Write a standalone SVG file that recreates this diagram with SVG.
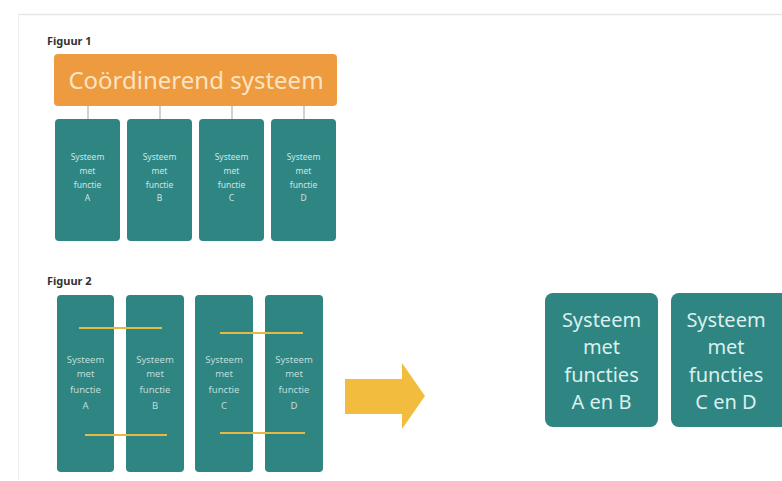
<svg xmlns="http://www.w3.org/2000/svg" width="782" height="481" viewBox="0 0 782 481">
<style>
.lbl{font-family:"Noto Sans","Open Sans",sans-serif;font-weight:bold;font-size:11px;fill:#333}
.teal{fill:#2e8582}
.small{font-family:"Noto Sans","Open Sans",sans-serif;font-size:8.5px;fill:#cfe6e4;text-anchor:middle}
.small2{font-family:"Noto Sans","Open Sans",sans-serif;font-size:9.5px;fill:#bfdedb;text-anchor:middle}
.big{font-family:"Noto Sans","Open Sans",sans-serif;font-size:20px;fill:#dcefed;text-anchor:middle}
.conn{stroke:#a8a392;stroke-width:1;fill:none}
.link{stroke:#e6b945;stroke-width:2;fill:none}
</style>
<rect width="782" height="481" fill="#ffffff"/>
<g id="frame">
<line x1="18" y1="14.5" x2="782" y2="14.5" stroke="#e6e6e6" stroke-width="1.5"/>
<line x1="18.5" y1="14" x2="18.5" y2="481" stroke="#f0f0f0" stroke-width="1"/>
</g>
<text class="lbl" x="47" y="45">Figuur 1</text>
<text class="lbl" x="47" y="285">Figuur 2</text>
<g id="connectors">
<line class="conn" x1="88" y1="106" x2="88" y2="119"/>
<line class="conn" x1="160" y1="106" x2="160" y2="119"/>
<line class="conn" x1="232" y1="106" x2="232" y2="119"/>
<line class="conn" x1="304" y1="106" x2="304" y2="119"/>
</g>
<g id="coord">
<rect x="54" y="54" width="283" height="52" rx="4" fill="#ee9a3f"/>
<text x="196" y="89" font-family="Noto Sans, Open Sans, sans-serif" font-size="24" fill="#fce4c2" text-anchor="middle">Coördinerend systeem</text>
</g>
<g id="f1a"><rect class="teal" x="55" y="119" width="65" height="122" rx="4"/>
<text class="small" x="87.5" y="160">Systeem</text><text class="small" x="87.5" y="174">met</text><text class="small" x="87.5" y="188">functie</text><text class="small" x="87.5" y="201">A</text></g>
<g id="f1b"><rect class="teal" x="127" y="119" width="65" height="122" rx="4"/>
<text class="small" x="159.5" y="160">Systeem</text><text class="small" x="159.5" y="174">met</text><text class="small" x="159.5" y="188">functie</text><text class="small" x="159.5" y="201">B</text></g>
<g id="f1c"><rect class="teal" x="199" y="119" width="65" height="122" rx="4"/>
<text class="small" x="231.5" y="160">Systeem</text><text class="small" x="231.5" y="174">met</text><text class="small" x="231.5" y="188">functie</text><text class="small" x="231.5" y="201">C</text></g>
<g id="f1d"><rect class="teal" x="271" y="119" width="65" height="122" rx="4"/>
<text class="small" x="303.5" y="160">Systeem</text><text class="small" x="303.5" y="174">met</text><text class="small" x="303.5" y="188">functie</text><text class="small" x="303.5" y="201">D</text></g>
<g id="f2a"><rect class="teal" x="57" y="295" width="57" height="177" rx="4"/>
<text class="small2" x="85.5" y="363">Systeem</text><text class="small2" x="85.5" y="377">met</text><text class="small2" x="85.5" y="393">functie</text><text class="small2" x="85.5" y="409">A</text></g>
<g id="f2b"><rect class="teal" x="126" y="295" width="58" height="177" rx="4"/>
<text class="small2" x="155" y="363">Systeem</text><text class="small2" x="155" y="377">met</text><text class="small2" x="155" y="393">functie</text><text class="small2" x="155" y="409">B</text></g>
<g id="f2c"><rect class="teal" x="195" y="295" width="58" height="177" rx="4"/>
<text class="small2" x="224" y="363">Systeem</text><text class="small2" x="224" y="377">met</text><text class="small2" x="224" y="393">functie</text><text class="small2" x="224" y="409">C</text></g>
<g id="f2d"><rect class="teal" x="265" y="295" width="58" height="177" rx="4"/>
<text class="small2" x="294" y="363">Systeem</text><text class="small2" x="294" y="377">met</text><text class="small2" x="294" y="393">functie</text><text class="small2" x="294" y="409">D</text></g>
<g id="links">
<line class="link" x1="79" y1="328" x2="162" y2="328"/>
<line class="link" x1="85" y1="435" x2="167" y2="435"/>
<line class="link" x1="220" y1="333" x2="303" y2="333"/>
<line class="link" x1="220" y1="433" x2="305" y2="433"/>
</g>
<g id="arrow">
<polygon points="345,379 402,379 402,363 425,396 402,429 402,414 345,414" fill="#f2bd3e"/>
</g>
<g id="ab"><rect class="teal" x="545" y="293" width="113" height="134" rx="8"/>
<text class="big" x="601.5" y="327">Systeem</text><text class="big" x="601.5" y="354">met</text><text class="big" x="601.5" y="382">functies</text><text class="big" x="601.5" y="409">A en B</text></g>
<g id="cd"><rect class="teal" x="671" y="293" width="118" height="134" rx="8"/>
<text class="big" x="726" y="327">Systeem</text><text class="big" x="726" y="354">met</text><text class="big" x="726" y="382">functies</text><text class="big" x="726" y="409">C en D</text></g>
</svg>
